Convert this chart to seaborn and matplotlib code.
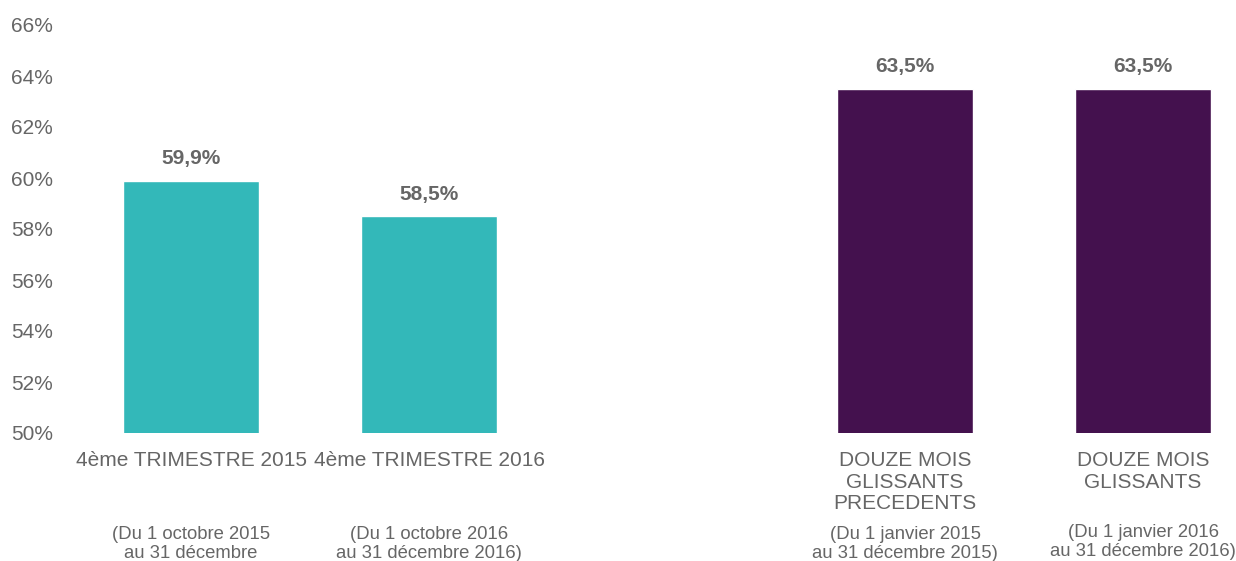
import matplotlib
matplotlib.use("Agg")
import matplotlib.pyplot as plt
import pandas as pd
import seaborn as sns

# data
categories = ["4ème TRIMESTRE 2015", "4ème TRIMESTRE 2016",
              "DOUZE MOIS\nGLISSANTS\nPRECEDENTS", "DOUZE MOIS\nGLISSANTS"]
values = [59.9, 58.5, 63.5, 63.5]
value_labels = ["59,9%", "58,5%", "63,5%", "63,5%"]
periods = ["(Du 1 octobre 2015\nau 31 décembre",
           "(Du 1 octobre 2016\nau 31 décembre 2016)",
           "(Du 1 janvier 2015\nau 31 décembre 2015)",
           "(Du 1 janvier 2016\nau 31 décembre 2016)"]
bar_colors = ["#33B8B9", "#33B8B9", "#44114E", "#44114E"]
yticks = [50, 52, 54, 56, 58, 60, 62, 64, 66]

# empty slot between the two groups
order = [categories[0], categories[1], " ", categories[2], categories[3]]

sns.set_style("white")
plt.rcParams['font.family'] = ['Liberation Sans', 'DejaVu Sans']
gray = "#666666"

df = pd.DataFrame({"cat": categories, "val": values})

W, H = 1236, 561
fig = plt.figure(figsize=(W / 100, H / 100), dpi=100)
ax_left, ax_bottom, ax_top = 72, 433, 25
ax = fig.add_axes([ax_left / W, (H - ax_bottom) / H, (W - ax_left) / W, (ax_bottom - ax_top) / H])

sns.barplot(data=df, x="cat", y="val", hue="cat", order=order, hue_order=categories,
            palette=bar_colors, width=136 / 238, legend=False, saturation=1,
            bottom=0, ax=ax)

ax.set_ylim(50, 66)
ax.set_xlim(-0.5, -0.5 + (W - ax_left) / 238)
ax.set_yticks(yticks)
ax.set_yticklabels([f"{t}%" for t in yticks])
ax.set_xlabel("")
ax.set_ylabel("")
sns.despine(ax=ax, left=True, bottom=True)
ax.tick_params(axis="y", length=0, pad=13.5, labelsize=15, labelcolor=gray)
ax.tick_params(axis="x", length=0, pad=13, labelsize=15, labelcolor=gray)
for t in ax.get_xticklabels():
    t.set_linespacing(1.18)

positions = [0, 1, 3, 4]
for x, v, lab in zip(positions, values, value_labels):
    ax.annotate(lab, (x, v), xytext=(0, 9), textcoords="offset points",
                ha="center", va="bottom", fontsize=15, fontweight="bold", color=gray)

# sub labels under the category names (top of text, in pixels)
period_tops = [526, 526, 526, 524]
for x, txt, top in zip(positions, periods, period_tops):
    ax.text(x, (ax_bottom - top) / (ax_bottom - ax_top), txt,
            transform=ax.get_xaxis_transform(), ha="center", va="top",
            fontsize=13.3, color=gray, linespacing=1.12, clip_on=False)

fig.savefig("out.png", dpi=100)
